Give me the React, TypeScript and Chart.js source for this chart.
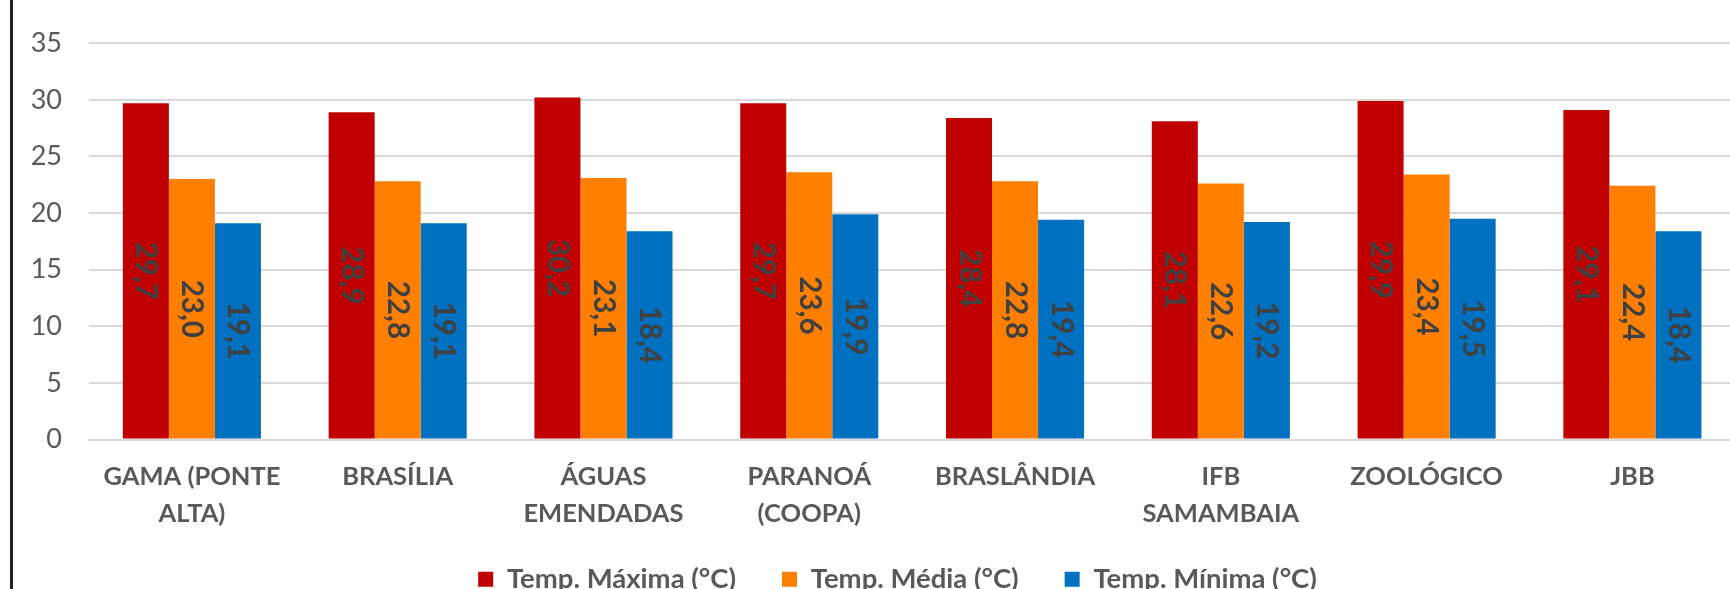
import React, { useEffect, useRef } from 'react';
import { Chart, registerables } from 'chart.js';

Chart.register(...registerables);

const categories: string[][] = [
  ['GAMA (PONTE', 'ALTA)'],
  ['BRASÍLIA'],
  ['ÁGUAS', 'EMENDADAS'],
  ['PARANOÁ', '(COOPA)'],
  ['BRASLÂNDIA'],
  ['IFB', 'SAMAMBAIA'],
  ['ZOOLÓGICO'],
  ['JBB'],
];
const seriesNames = ['Temp. Máxima (°C)', 'Temp. Média (°C)', 'Temp. Mínima (°C)'];
const tempMax = [29.7, 28.9, 30.2, 29.7, 28.4, 28.1, 29.9, 29.1];
const tempMed = [23.0, 22.8, 23.1, 23.6, 22.8, 22.6, 23.4, 22.4];
const tempMin = [19.1, 19.1, 18.4, 19.9, 19.4, 19.2, 19.5, 18.4];
const yMin = 0;
const yMax = 35;
const yStep = 5;
const seriesColors = ['#C00000', '#FF8000', '#0070C0'];

const fmt = (v: number) => v.toFixed(1).replace('.', ',');

const barLabels = {
  id: 'barLabels',
  afterDatasetsDraw(chart: any) {
    const ctx = chart.ctx;
    ctx.save();
    ctx.font = 'bold 29.5px Lato';
    ctx.fillStyle = '#404040';
    ctx.textAlign = 'center';
    ctx.textBaseline = 'middle';
    chart.data.datasets.forEach((ds: any, i: number) => {
      const meta = chart.getDatasetMeta(i);
      meta.data.forEach((bar: any, j: number) => {
        const { x, y, base } = bar.getProps(['x', 'y', 'base'], true);
        ctx.save();
        ctx.translate(x, (y + base) / 2);
        ctx.rotate(Math.PI / 2);
        ctx.fillText(fmt(ds.data[j]), 0, 0);
        ctx.restore();
      });
    });
    ctx.restore();
  },
};

// let the two-line category labels overflow the x-axis box instead of being clipped
const unclipXLabels = {
  id: 'unclipXLabels',
  afterLayout(chart: any) {
    const x = chart.scales.x;
    if (x) x.bottom = chart.height;
  },
};

export default function App() {
  const ref = useRef<HTMLCanvasElement | null>(null);

  useEffect(() => {
    if (!ref.current) return;
    const chart = new Chart(ref.current, {
      type: 'bar',
      data: {
        labels: categories,
        datasets: [
          { label: seriesNames[0], data: tempMax, backgroundColor: seriesColors[0] },
          { label: seriesNames[1], data: tempMed, backgroundColor: seriesColors[1] },
          { label: seriesNames[2], data: tempMin, backgroundColor: seriesColors[2] },
        ],
      },
      options: {
        responsive: false,
        animation: false,
        devicePixelRatio: 1,
        datasets: { bar: { categoryPercentage: 0.671, barPercentage: 1 } },
        layout: { padding: { top: 41, left: 0, right: 5, bottom: 0 } },
        plugins: {
          legend: {
            position: 'bottom',
            labels: {
              boxWidth: 15,
              boxHeight: 15,
              padding: 46,
              color: '#595959',
              font: { family: 'Lato', size: 27.5, weight: 'bold' },
            },
          },
          tooltip: { enabled: false },
        },
        scales: {
          x: {
            grid: { display: false, drawTicks: false },
            border: { display: false },
            ticks: {
              color: '#595959',
              font: { family: 'Lato', size: 25.5, weight: 'bold', lineHeight: 37 / 25.5 },
              padding: 18.5,
              autoSkip: false,
              maxRotation: 0,
              minRotation: 0,
            },
            afterFit: (s: any) => { s.height = 80; },
          },
          y: {
            min: yMin,
            max: yMax,
            ticks: {
              stepSize: yStep,
              color: '#595959',
              font: { family: 'Lato', size: 27 },
              padding: 27,
            },
            grid: { color: '#D9D9D9', lineWidth: 2, drawTicks: false },
            border: { display: false },
            afterFit: (s: any) => { s.width = 89; },
          },
          yR: {
            position: 'right',
            grid: { display: false, drawTicks: false },
            border: { display: false },
            ticks: { display: false },
            afterFit: (s: any) => { s.width = 59.7; },
          },
        },
      } as any,
      plugins: [barLabels, unclipXLabels],
    });
    return () => chart.destroy();
  }, []);

  return (
    <div style={{ position: 'absolute', left: 0, top: 0, width: 1730, height: 589, overflow: 'hidden', background: '#fff' }}>
      <canvas ref={ref} width={1800} height={603} style={{ display: 'block', width: 1800, height: 603 }} />
      <div style={{ position: 'absolute', left: 10, top: 0, width: 3, height: 589, background: '#222' }} />
    </div>
  );
}
